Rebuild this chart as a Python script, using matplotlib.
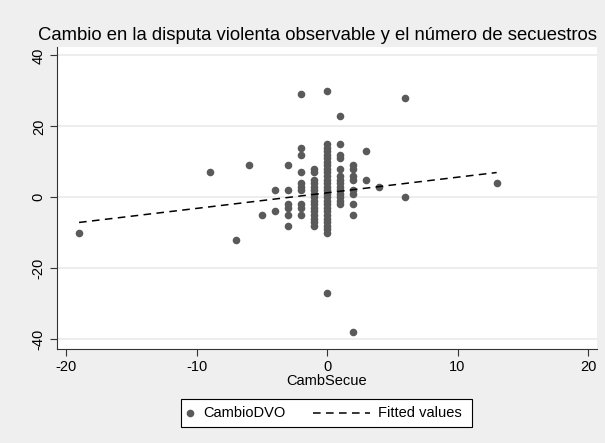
import numpy as np
import matplotlib.pyplot as plt
from matplotlib.lines import Line2D
from matplotlib.patches import Rectangle

plt.rcParams['font.family'] = ['Liberation Sans', 'DejaVu Sans']
plt.rcParams['axes.unicode_minus'] = False

# change in kidnappings (x) vs change in observable violent dispute (y)
camb_secue = (
    [-19, -9, -7, -6, -5]
    + [-4] * 2
    + [-3] * 6
    + [-2] * 10
    + [-1] * 16
    + [0] * 28
    + [1] * 14
    + [2] * 9
    + [3, 3, 4, 6, 6, 13]
)
cambio_dvo = (
    [-10, 7, -12, 9, -5]
    + [2, -4]
    + [9, 2, -2, -3, -5, -8]
    + [29, 14, 12, 7, 4, 3, 2, -3, -5, -2]
    + [8, 7, 5, 4, 3, 2, 1, 0, -1, -2, -3, -4, -5, -6, -7, -8]
    + [30, 15, 13, 12, 10, 8, 7, 6, 5, 4, 3, 2, 1, 0,
       -1, -2, -3, -4, -5, -6, -7, -8, -9, -10, 11, 9, -27, 14]
    + [23, 15, 12, 11, 8, 6, 5, 4, 3, 2, 1, 0, -1, -2]
    + [9, 8, 6, 5, 2, 1, -2, -5, -38]
    + [13, 5, 3, 28, 0, 4]
)

# linear fit of CambioDVO on CambSecue
fit_slope = 0.44
fit_intercept = 1.27

x_ticks = [-20, -10, 0, 10, 20]
y_ticks = [-40, -20, 0, 20, 40]

W, H = 605, 443
bg = '#efefef'
dot_color = '#5a5a5a'

fig = plt.figure(figsize=(W / 100, H / 100), dpi=100, facecolor=bg)
ax = fig.add_axes([0.094, 0.212, 0.893, 0.682])
ax.set_facecolor('white')


def fx(px):
    return px / W


def fy(py):
    return 1 - py / H


for y in y_ticks:
    ax.axhline(y, color='#eaeaea', lw=1.2, zorder=0)

ax.scatter(camb_secue, cambio_dvo, s=30, color=dot_color, linewidths=0, zorder=2)

xf = np.array([min(camb_secue), max(camb_secue)])
ax.plot(xf, fit_intercept + fit_slope * xf, color='black', lw=1.1,
        dashes=(5, 3.5), zorder=3)

ax.set_xlim(-20.7, 20.7)
ax.set_ylim(-42.8, 42.4)
ax.set_xticks(x_ticks)
ax.set_yticks(y_ticks)
ax.set_yticklabels([str(v) for v in y_ticks], rotation=90, va='center')
ax.tick_params(axis='both', direction='out', length=5, width=0.8,
               color='#333333', labelsize=10.5, pad=3)

for side in ['top', 'right']:
    ax.spines[side].set_visible(False)
for side in ['left', 'bottom']:
    ax.spines[side].set_color('#333333')
    ax.spines[side].set_linewidth(0.8)

ax.set_xlabel('CambSecue', fontsize=10.5, labelpad=0)

fig.text(fx(317), fy(35), 'Cambio en la disputa violenta observable y el número de secuestros',
         ha='center', va='center', fontsize=13.3)

# legend box drawn in figure coordinates
fig.patches.append(Rectangle((fx(181), fy(427)), fx(472) - fx(181), fy(399) - fy(427),
                             transform=fig.transFigure, facecolor='white',
                             edgecolor='black', lw=0.8))
leg_y = fy(413)
fig.lines.append(Line2D([fx(190)], [leg_y], transform=fig.transFigure, marker='o',
                        markersize=5.5, color=dot_color, markeredgewidth=0, linestyle='none'))
fig.text(fx(203), leg_y, 'CambioDVO', ha='left', va='center', fontsize=10.5)
fig.lines.append(Line2D([fx(313), fx(370)], [leg_y, leg_y], transform=fig.transFigure,
                        color='black', lw=1.1, dashes=(5, 3.5)))
fig.text(fx(378), leg_y, 'Fitted values', ha='left', va='center', fontsize=10.5)

fig.savefig('out.png', dpi=100, facecolor=bg)
